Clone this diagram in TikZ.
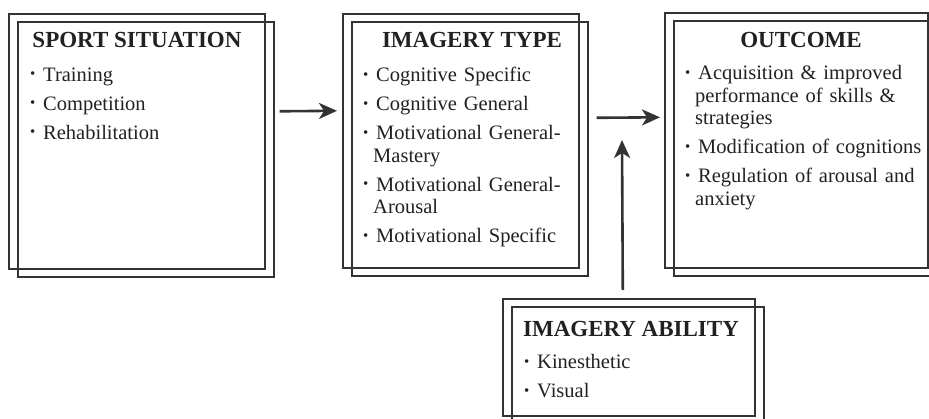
\documentclass[tikz,border=0pt]{standalone}
\usepackage{fontspec}
\setmainfont{Liberation Serif}
\usetikzlibrary{arrows.meta,shadows}
\definecolor{FrameClr}{rgb}{0.2,0.2,0.2}
\definecolor{TextClr}{rgb}{0.13,0.13,0.13}

\newcommand{\HeadFont}{\fontsize{23}{26}\selectfont\bfseries}
\newcommand{\ItemFont}{\fontsize{20.5}{22.5}\selectfont}
\newcommand{\bul}{\makebox[13pt][l]{\raisebox{2.5pt}{\fontsize{15}{15}\selectfont\textbullet}}}
\newcommand{\cont}{\\\hspace*{10pt}}
\newcommand{\gap}{\\[6.5pt]}

\begin{document}
\begin{tikzpicture}[x=1pt,y=-1pt,
  frame/.style={draw=FrameClr,line width=1.6pt,inner sep=0pt,anchor=north west,
    copy shadow={shadow xshift=9pt,shadow yshift=-8pt,fill=none,draw=FrameClr,line width=1.6pt}},
  head/.style={font=\HeadFont,text=TextClr,anchor=base,inner sep=0pt},
  list/.style={font=\ItemFont,text=TextClr,anchor=base west,inner sep=0pt,text width=250pt,align=left},
  link/.style={draw=FrameClr,line width=2.6pt,-{Stealth[length=18pt,width=16pt,inset=5pt]}}]
\useasboundingbox (0,0) rectangle (929,419);

% the four boxes
\node[frame,minimum width=256pt,minimum height=255pt] (sport) at (8,13) {};
\node[frame,minimum width=236pt,minimum height=254pt] (type) at (342,13) {};
\node[frame,minimum width=263pt,minimum height=255pt] (outcome) at (664,12) {};
\node[frame,minimum width=252pt,minimum height=117pt] (ability) at (502,298) {};

% headings
\node[head] (sporthead) at ([shift={(129,35)}]sport.north west) {SPORT SITUATION};
\node[head] (typehead) at ([shift={(130,35)}]type.north west) {IMAGERY TYPE};
\node[head] (outcomehead) at ([shift={(137,36)}]outcome.north west) {OUTCOME};
\node[head] (abilityhead) at ([shift={(129,39)}]ability.north west) {IMAGERY ABILITY};

% lists
\node[list] (sportlist) at ([shift={(22,68.5)}]sport.north west)
  {\bul Training\gap \bul Competition\gap \bul Rehabilitation};
\node[list] (typelist) at ([shift={(21,69)}]type.north west)
  {\bul Cognitive Specific\gap \bul Cognitive General\gap
   \bul Motivational General-\cont Mastery\gap
   \bul Motivational General-\cont Arousal\gap
   \bul Motivational Specific};
\node[list] (outcomelist) at ([shift={(21,68)}]outcome.north west)
  {\bul Acquisition \& improved\cont performance of skills \&\cont strategies\gap
   \bul Modification of cognitions\gap
   \bul Regulation of arousal and\cont anxiety};
\node[list] (abilitylist) at ([shift={(22,71)}]ability.north west)
  {\bul Kinesthetic\gap \bul Visual};

% arrows
\coordinate (meet) at (622,140);
\draw[link] ([shift={(14,-30)}]sport.east) -- ([shift={(-5,-30)}]type.west);
\draw[link] ([shift={(17,-23)}]type.east) -- ([shift={(-4,-23)}]outcome.west);
\draw[link] ([shift={(-6,-8)}]ability.north) -- (meet);

\end{tikzpicture}
\end{document}
